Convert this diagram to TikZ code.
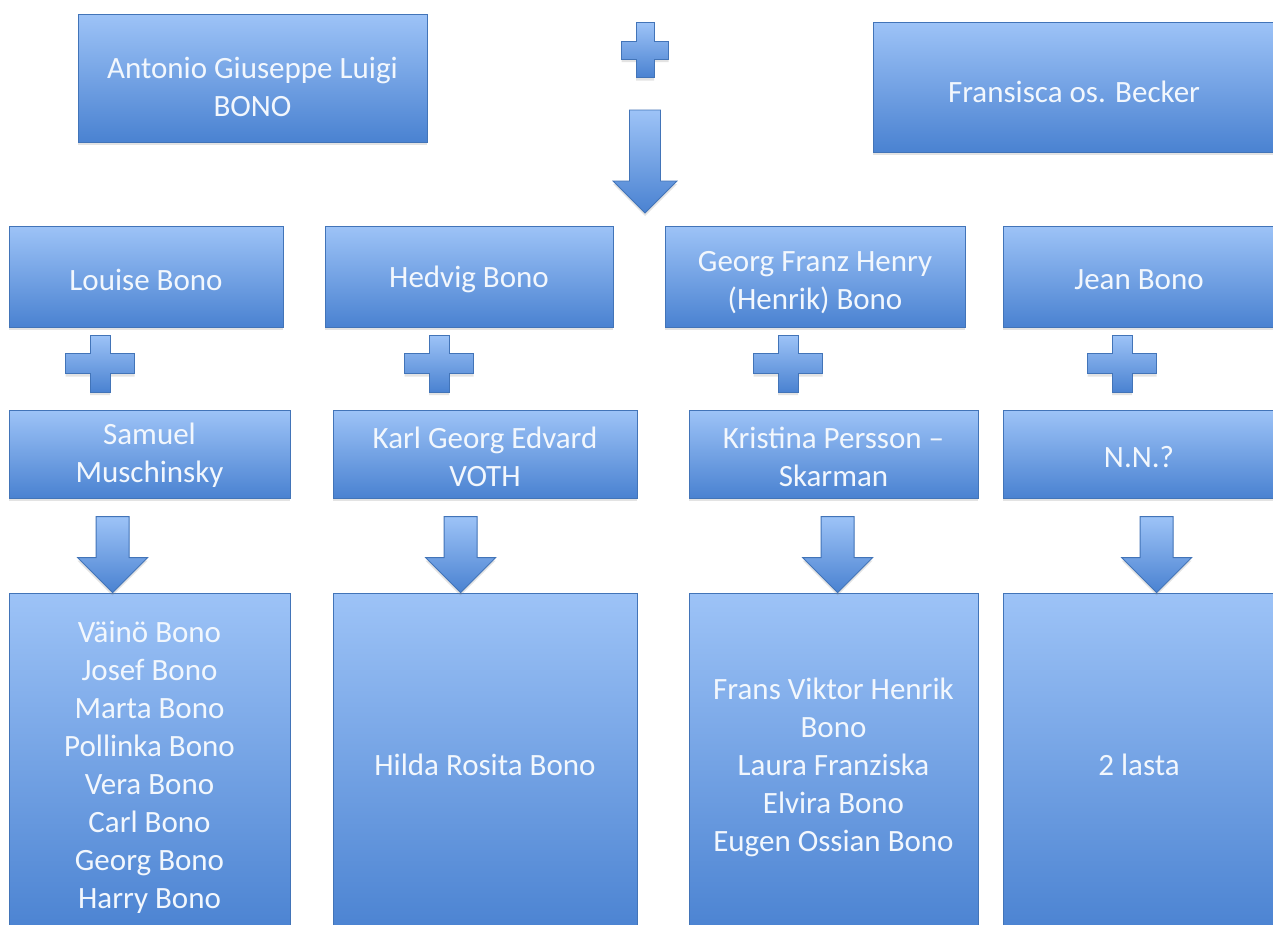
\documentclass[tikz,border=0pt]{standalone}
\usepackage{fontspec}
\setmainfont{Carlito}
\usetikzlibrary{shadows,calc}
\definecolor{gtop}{HTML}{9DC3F7}
\definecolor{gbot}{HTML}{4A82D1}
\definecolor{gline}{HTML}{4274B8}
\definecolor{gtext}{HTML}{F2F7FD}
\tikzset{
  gfill/.style={draw=gline, line width=0.8pt, top color=gtop, bottom color=gbot,
    drop shadow={shadow xshift=0pt, shadow yshift=-3pt, opacity=0.22}},
  fam/.style={gfill, rectangle, inner sep=0pt},
  famlabel/.style={text=gtext, align=center, inner sep=0pt,
    font=\fontsize{31}{38}\selectfont},
}
% plus sign: centre x, centre y, width, height, arm thickness
\newcommand\drawplus[5]{%
  \path[gfill] ({#1-#5/2},{#2-#4/2}) -- ({#1+#5/2},{#2-#4/2}) -- ({#1+#5/2},{#2-#5/2})
    -- ({#1+#3/2},{#2-#5/2}) -- ({#1+#3/2},{#2+#5/2}) -- ({#1+#5/2},{#2+#5/2})
    -- ({#1+#5/2},{#2+#4/2}) -- ({#1-#5/2},{#2+#4/2}) -- ({#1-#5/2},{#2+#5/2})
    -- ({#1-#3/2},{#2+#5/2}) -- ({#1-#3/2},{#2-#5/2}) -- ({#1-#5/2},{#2-#5/2}) -- cycle;}
% block arrow pointing down: tip coordinate, length, head width, shaft width
\newcommand\drawdownarrow[4]{%
  \path[gfill] ([shift={({-#4/2},{-#2})}]#1) -- ([shift={({#4/2},{-#2})}]#1)
    -- ([shift={({#4/2},{-#3/2})}]#1) -- ([shift={({#3/2},{-#3/2})}]#1)
    -- (#1) -- ([shift={({-#3/2},{-#3/2})}]#1) -- ([shift={({-#4/2},{-#3/2})}]#1) -- cycle;}
\begin{document}
\begin{tikzpicture}[x=1pt, y=-1pt]
\path[use as bounding box] (0,0) rectangle (1273,924);
\clip (0,0) rectangle (1273,924);
\fill[white] (0,0) rectangle (1273,924);

% parents
\node[fam, minimum width=349pt, minimum height=128pt,
  label={[famlabel, yshift=-9pt]center:{Antonio Giuseppe Luigi\\BONO}}] (anton) at (252.5,78) {};
\node[fam, minimum width=402pt, minimum height=130pt,
  label={[famlabel, yshift=-5pt]center:{Fransisca os. Becker}}] (fran) at (1074,87) {};
\drawplus{645}{50}{47}{55}{18}
\coordinate (toptip) at (645,213);
\drawdownarrow{toptip}{103}{64}{31}

% children
\node[fam, minimum width=274pt, minimum height=101pt,
  label={[famlabel, yshift=-3pt]center:{Louise Bono}}] (louise) at (146,276.5) {};
\node[fam, minimum width=288pt, minimum height=101pt,
  label={[famlabel, yshift=-3pt]center:{Hedvig Bono}}] (hedvig) at (469,276.5) {};
\node[fam, minimum width=300pt, minimum height=101pt,
  label={[famlabel, yshift=-6pt]center:{Georg Franz Henry\\(Henrik) Bono}}] (georg) at (815,276.5) {};
\node[fam, minimum width=272pt, minimum height=101pt,
  label={[famlabel, yshift=-3pt]center:{Jean Bono}}] (jean) at (1139,276.5) {};

% plus signs
\drawplus{100}{363.5}{69}{57}{20}
\drawplus{439}{363.5}{69}{57}{20}
\drawplus{788}{363.5}{69}{57}{20}
\drawplus{1122}{363.5}{69}{57}{20}

% spouses
\node[fam, minimum width=281pt, minimum height=88pt,
  label={[famlabel, yshift=-1pt]center:{Samuel\\Muschinsky}}] (samuel) at (149.5,454) {};
\node[fam, minimum width=304pt, minimum height=88pt,
  label={[famlabel, yshift=-3pt]center:{Karl Georg Edvard\\VOTH}}] (karl) at (485,454) {};
\node[fam, minimum width=289pt, minimum height=88pt,
  label={[famlabel, yshift=-3pt]center:{Kristina Persson –\\Skarman}}] (kristina) at (833.5,454) {};
\node[fam, minimum width=272pt, minimum height=88pt,
  label={[famlabel, yshift=-3pt]center:{N.N.?}}] (nn) at (1139,454) {};

% grandchildren
\node[fam, minimum width=281pt, minimum height=344pt,
  label={[famlabel, yshift=-2pt]center:{Väinö Bono\\Josef Bono\\Marta Bono\\Pollinka Bono\\Vera Bono\\Carl Bono\\Georg Bono\\Harry Bono}}] (kidsL) at (149.5,765) {};
\node[fam, minimum width=304pt, minimum height=344pt,
  label={[famlabel]center:{Hilda Rosita Bono}}] (kidsH) at (485,765) {};
\node[fam, minimum width=289pt, minimum height=344pt,
  label={[famlabel, yshift=-2pt]center:{Frans Viktor Henrik\\Bono\\Laura Franziska\\Elvira Bono\\Eugen Ossian Bono}}] (kidsG) at (833.5,765) {};
\node[fam, minimum width=272pt, minimum height=344pt,
  label={[famlabel]center:{2 lasta}}] (kidsJ) at (1139,765) {};

% block arrows from each couple to their children
\coordinate (tipL) at ($(kidsL.north west)+(104,0)$);
\coordinate (tipH) at ($(kidsH.north west)+(128,0)$);
\coordinate (tipG) at ($(kidsG.north west)+(149,0)$);
\coordinate (tipJ) at ($(kidsJ.north west)+(154,0)$);
\drawdownarrow{tipL}{76}{70}{33}
\drawdownarrow{tipH}{76}{70}{33}
\drawdownarrow{tipG}{76}{70}{33}
\drawdownarrow{tipJ}{76}{70}{33}
\end{tikzpicture}
\end{document}
